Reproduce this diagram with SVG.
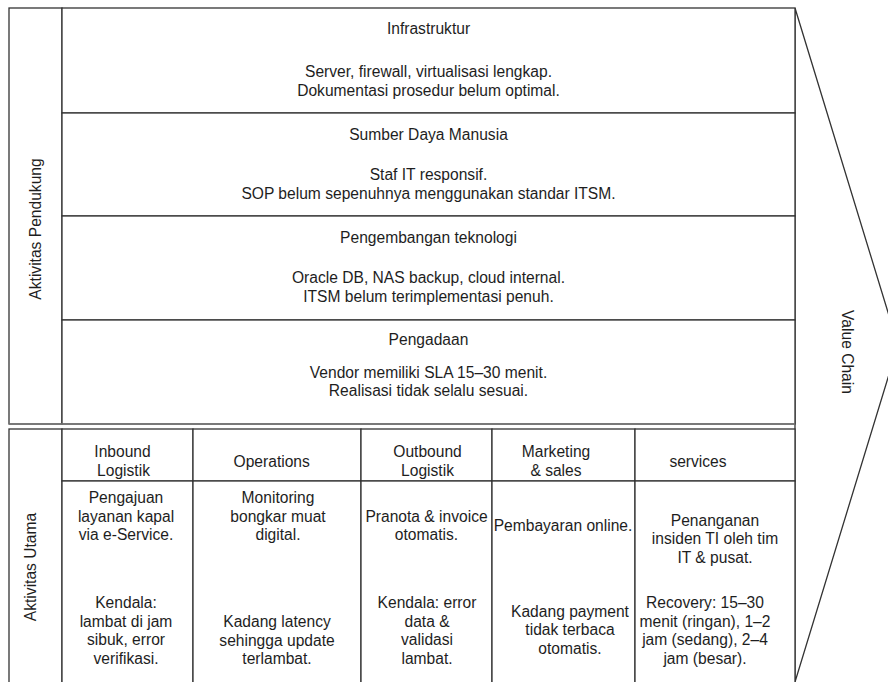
<svg xmlns="http://www.w3.org/2000/svg" width="888" height="682" viewBox="0 0 888 682">
<style>
.box{fill:#ffffff;stroke:#333333;stroke-width:1.3}
.t{font-family:"Liberation Sans",Arial,Helvetica,sans-serif;font-size:15.6px;fill:#1e1e1e;text-anchor:middle}
</style>
<rect x="0" y="0" width="888" height="682" fill="#ffffff"/>
<g id="value-chain">
<polygon points="795,8 898,345 795,682" fill="#ffffff" stroke="#333333" stroke-width="1.3"/>
<text class="t" transform="translate(841.5,352) rotate(90)">Value Chain</text>
</g>
<g id="aktivitas-pendukung">
<rect class="box" x="9" y="8" width="53" height="416"/>
<text class="t" transform="translate(41,229) rotate(-90)">Aktivitas Pendukung</text>
</g>
<g id="infrastruktur">
<rect class="box" x="62" y="8" width="733" height="105"/>
<text class="t" x="428.5" y="34">Infrastruktur</text>
<text class="t" x="428.5" y="77">Server, firewall, virtualisasi lengkap.</text>
<text class="t" x="428.5" y="95.5">Dokumentasi prosedur belum optimal.</text>
</g>
<g id="sdm">
<rect class="box" x="62" y="113" width="733" height="103"/>
<text class="t" x="428.5" y="140">Sumber Daya Manusia</text>
<text class="t" x="428.5" y="180">Staf IT responsif.</text>
<text class="t" x="428.5" y="198.5">SOP belum sepenuhnya menggunakan standar ITSM.</text>
</g>
<g id="pengembangan">
<rect class="box" x="62" y="216" width="733" height="104"/>
<text class="t" x="428.5" y="243">Pengembangan teknologi</text>
<text class="t" x="428.5" y="283">Oracle DB, NAS backup, cloud internal.</text>
<text class="t" x="428.5" y="301.5">ITSM belum terimplementasi penuh.</text>
</g>
<g id="pengadaan">
<rect class="box" x="62" y="320" width="733" height="104"/>
<text class="t" x="428.5" y="345">Pengadaan</text>
<text class="t" x="428.5" y="377.5">Vendor memiliki SLA 15–30 menit.</text>
<text class="t" x="428.5" y="396">Realisasi tidak selalu sesuai.</text>
</g>
<line x1="9" y1="424" x2="795" y2="424" stroke="#7a7a7a" stroke-width="1.6"/>
<g id="aktivitas-utama">
<rect class="box" x="9" y="429" width="53" height="270"/>
<text class="t" transform="translate(35.5,567) rotate(-90)">Aktivitas Utama</text>
</g>
<g id="inbound">
<rect class="box" x="62" y="429" width="131" height="52"/>
<text class="t" x="122.5" y="457">Inbound</text>
<text class="t" x="123.5" y="475.5">Logistik</text>
<rect class="box" x="62" y="481" width="131" height="218"/>
<text class="t" x="126" y="503">Pengajuan</text>
<text class="t" x="126" y="521.7">layanan kapal</text>
<text class="t" x="126" y="540.4">via e-Service.</text>
<text class="t" x="126" y="608">Kendala:</text>
<text class="t" x="126" y="626.7">lambat di jam</text>
<text class="t" x="126" y="645.4">sibuk, error</text>
<text class="t" x="126" y="664.1">verifikasi.</text>
</g>
<g id="operations">
<rect class="box" x="193" y="429" width="168" height="52"/>
<text class="t" x="271.7" y="466.5">Operations</text>
<rect class="box" x="193" y="481" width="168" height="218"/>
<text class="t" x="278" y="503">Monitoring</text>
<text class="t" x="278" y="521.7">bongkar muat</text>
<text class="t" x="278" y="540.4">digital.</text>
<text class="t" x="277" y="627">Kadang latency</text>
<text class="t" x="277" y="645.7">sehingga update</text>
<text class="t" x="277" y="664.4">terlambat.</text>
</g>
<g id="outbound">
<rect class="box" x="361" y="429" width="131" height="52"/>
<text class="t" x="427.5" y="457">Outbound</text>
<text class="t" x="427.5" y="475.5">Logistik</text>
<rect class="box" x="361" y="481" width="131" height="218"/>
<text class="t" x="426.5" y="521.7">Pranota &amp; invoice</text>
<text class="t" x="426.5" y="540.4">otomatis.</text>
<text class="t" x="427" y="608">Kendala: error</text>
<text class="t" x="427" y="626.7">data &amp;</text>
<text class="t" x="427" y="645.4">validasi</text>
<text class="t" x="427" y="664.1">lambat.</text>
</g>
<g id="marketing">
<rect class="box" x="492" y="429" width="143" height="52"/>
<text class="t" x="556" y="457">Marketing</text>
<text class="t" x="556" y="475.5">&amp; sales</text>
<rect class="box" x="492" y="481" width="143" height="218"/>
<text class="t" x="563" y="531">Pembayaran online.</text>
<text class="t" x="570" y="616.5">Kadang payment</text>
<text class="t" x="570" y="635.2">tidak terbaca</text>
<text class="t" x="570" y="653.9">otomatis.</text>
</g>
<g id="services">
<rect class="box" x="635" y="429" width="160" height="52"/>
<text class="t" x="698" y="466.5">services</text>
<rect class="box" x="635" y="481" width="160" height="218"/>
<text class="t" x="715" y="525.5">Penanganan</text>
<text class="t" x="715" y="544.2">insiden TI oleh tim</text>
<text class="t" x="715" y="562.9">IT &amp; pusat.</text>
<text class="t" x="705" y="608">Recovery: 15–30</text>
<text class="t" x="705" y="626.7">menit (ringan), 1–2</text>
<text class="t" x="705" y="645.4">jam (sedang), 2–4</text>
<text class="t" x="705" y="664.1">jam (besar).</text>
</g>
<g id="connectors"></g>
</svg>
